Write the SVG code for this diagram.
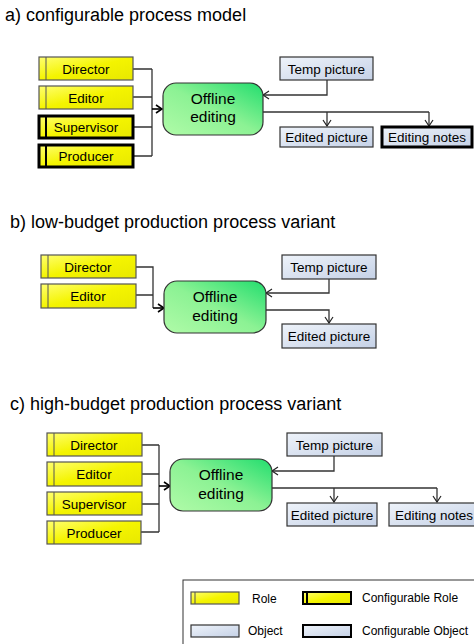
<svg xmlns="http://www.w3.org/2000/svg" width="474" height="644" viewBox="0 0 474 644">
<defs>
<linearGradient id="gRole" x1="0" y1="0" x2="1" y2="1">
<stop offset="0" stop-color="#ffff70"/>
<stop offset="0.5" stop-color="#f4f400"/>
<stop offset="1" stop-color="#e8e800"/>
</linearGradient>
<linearGradient id="gObj" x1="0" y1="0" x2="1" y2="1">
<stop offset="0" stop-color="#eef3fa"/>
<stop offset="1" stop-color="#c5d1e6"/>
</linearGradient>
<linearGradient id="gFn" x1="0" y1="1" x2="1" y2="0">
<stop offset="0" stop-color="#b0fba8"/>
<stop offset="0.5" stop-color="#8cf294"/>
<stop offset="1" stop-color="#22dd6e"/>
</linearGradient>
<marker id="arr" markerUnits="userSpaceOnUse" markerWidth="10" markerHeight="10" viewBox="0 0 10 10" refX="9" refY="5" orient="auto">
<path d="M3,1 L9,5 L3,9" fill="none" stroke="#222" stroke-width="1.2"/>
</marker>
<marker id="arrB" markerUnits="userSpaceOnUse" markerWidth="10" markerHeight="10" viewBox="0 0 10 10" refX="9" refY="5" orient="auto">
<path d="M3,1 L9,5 L3,9" fill="none" stroke="#000" stroke-width="1.6"/>
</marker>
</defs>
<style>
text{font-family:"Liberation Sans",Arial,sans-serif;fill:#000}
.title{font-size:18px}
.lbl{font-size:13.5px;text-anchor:middle}
.fn{font-size:15.5px;text-anchor:middle}
.leg{font-size:12px}
.role{fill:url(#gRole);stroke:#555;stroke-width:1.2}
.crole{fill:url(#gRole);stroke:#000;stroke-width:3}
.bar{fill:none;stroke:#555;stroke-width:1}
.cbar{fill:none;stroke:#000;stroke-width:2}
.obj{fill:url(#gObj);stroke:#333;stroke-width:1.2}
.cobj{fill:url(#gObj);stroke:#000;stroke-width:3}
.fnbox{fill:url(#gFn);stroke:#333;stroke-width:1.2}
.ln{fill:none;stroke:#333;stroke-width:1.3}
.lnk{fill:none;stroke:#000;stroke-width:1.6}
</style>

<text class="title" x="5" y="21">a) configurable process model</text>
<text class="title" x="10" y="228">b) low-budget production process variant</text>
<text class="title" x="10" y="410">c) high-budget production process variant</text>

<g id="connectors">
<!-- a -->
<path class="ln" d="M133,69 H152 M133,97 H152 M133,127 H152 M133,156 H152 M152,69 V156"/>
<path class="lnk" d="M152,109 H162" marker-end="url(#arrB)"/>
<path class="ln" d="M327,80 V95 H263" marker-end="url(#arr)"/>
<path class="ln" d="M263,112 H429"/>
<path class="ln" d="M327,112 V126" marker-end="url(#arr)"/>
<path class="ln" d="M429,112 V126" marker-end="url(#arr)"/>
<!-- b -->
<path class="ln" d="M136,267 H153 V308 M136,295 H153"/>
<path class="lnk" d="M153,308 H164" marker-end="url(#arrB)"/>
<path class="ln" d="M329,279 V293 H266" marker-end="url(#arr)"/>
<path class="ln" d="M266,310 H329 V323" marker-end="url(#arr)"/>
<!-- c -->
<path class="ln" d="M142,445 H159 M142,474 H159 M142,504 H159 M141,532 H159 M159,445 V532"/>
<path class="lnk" d="M159,486 H170" marker-end="url(#arrB)"/>
<path class="ln" d="M334,456 V471 H272" marker-end="url(#arr)"/>
<path class="ln" d="M272,488 H437"/>
<path class="ln" d="M334,488 V502" marker-end="url(#arr)"/>
<path class="ln" d="M437,488 V502" marker-end="url(#arr)"/>
</g>

<!-- section a -->
<g id="a-director"><rect class="role" x="39" y="57" width="94" height="23"/><line class="bar" x1="46" y1="57" x2="46" y2="80"/><text class="lbl" x="86" y="73.5">Director</text></g>
<g id="a-editor"><rect class="role" x="39" y="86" width="94" height="23"/><line class="bar" x1="46" y1="86" x2="46" y2="109"/><text class="lbl" x="86" y="102.5">Editor</text></g>
<g id="a-supervisor"><rect class="crole" x="39" y="116" width="94" height="22"/><line class="cbar" x1="46" y1="116" x2="46" y2="138"/><text class="lbl" x="86" y="132">Supervisor</text></g>
<g id="a-producer"><rect class="crole" x="39" y="145" width="94" height="22"/><line class="cbar" x1="46" y1="145" x2="46" y2="167"/><text class="lbl" x="86" y="161">Producer</text></g>
<g id="a-offline"><rect class="fnbox" x="163" y="83" width="100" height="52" rx="13"/><text class="fn" x="213" y="104">Offline</text><text class="fn" x="213" y="122">editing</text></g>
<g id="a-temp"><rect class="obj" x="280" y="57" width="93" height="23"/><text class="lbl" x="326.5" y="73.5">Temp picture</text></g>
<g id="a-edited"><rect class="obj" x="280" y="127" width="93" height="20"/><text class="lbl" x="326.5" y="142">Edited picture</text></g>
<g id="a-notes"><rect class="cobj" x="382" y="127" width="90" height="20"/><text class="lbl" x="427" y="142">Editing notes</text></g>

<!-- section b -->
<g id="b-director"><rect class="role" x="41" y="255" width="95" height="23"/><line class="bar" x1="48" y1="255" x2="48" y2="278"/><text class="lbl" x="88" y="271.5">Director</text></g>
<g id="b-editor"><rect class="role" x="41" y="284" width="95" height="24"/><line class="bar" x1="48" y1="284" x2="48" y2="308"/><text class="lbl" x="88" y="300.5">Editor</text></g>
<g id="b-offline"><rect class="fnbox" x="164" y="281" width="102" height="52" rx="13"/><text class="fn" x="215" y="302">Offline</text><text class="fn" x="215" y="321">editing</text></g>
<g id="b-temp"><rect class="obj" x="282" y="255" width="94" height="24"/><text class="lbl" x="329" y="271.5">Temp picture</text></g>
<g id="b-edited"><rect class="obj" x="282" y="324" width="94" height="24"/><text class="lbl" x="329" y="340.5">Edited picture</text></g>

<!-- section c -->
<g id="c-director"><rect class="role" x="47" y="433" width="95" height="23"/><line class="bar" x1="54" y1="433" x2="54" y2="456"/><text class="lbl" x="94" y="449.5">Director</text></g>
<g id="c-editor"><rect class="role" x="47" y="462" width="95" height="24"/><line class="bar" x1="54" y1="462" x2="54" y2="486"/><text class="lbl" x="94" y="478.5">Editor</text></g>
<g id="c-supervisor"><rect class="role" x="47" y="492" width="95" height="23"/><line class="bar" x1="54" y1="492" x2="54" y2="515"/><text class="lbl" x="94" y="508.5">Supervisor</text></g>
<g id="c-producer"><rect class="role" x="47" y="521" width="94" height="23"/><line class="bar" x1="54" y1="521" x2="54" y2="544"/><text class="lbl" x="94" y="537.5">Producer</text></g>
<g id="c-offline"><rect class="fnbox" x="170" y="459" width="102" height="52" rx="13"/><text class="fn" x="221" y="480">Offline</text><text class="fn" x="221" y="499">editing</text></g>
<g id="c-temp"><rect class="obj" x="287" y="433" width="95" height="23"/><text class="lbl" x="334.5" y="449.5">Temp picture</text></g>
<g id="c-edited"><rect class="obj" x="287" y="503" width="90" height="23"/><text class="lbl" x="332" y="519.5">Edited picture</text></g>
<g id="c-notes"><rect class="obj" x="389" y="503" width="90" height="23"/><text class="lbl" x="434" y="519.5">Editing notes</text></g>

<!-- legend -->
<g id="legend">
<rect x="183" y="580" width="300" height="70" fill="#fff" stroke="#333" stroke-width="1"/>
<rect class="role" x="191" y="592" width="48" height="12"/><line class="bar" x1="195" y1="592" x2="195" y2="604"/>
<text class="leg" x="252" y="603">Role</text>
<rect fill="url(#gRole)" stroke="#000" stroke-width="2" x="303" y="592" width="48" height="12"/><line class="cbar" x1="307" y1="592" x2="307" y2="604"/>
<text class="leg" x="362" y="602">Configurable Role</text>
<rect class="obj" x="191" y="625" width="48" height="12"/>
<text class="leg" x="248" y="635">Object</text>
<rect fill="url(#gObj)" stroke="#000" stroke-width="2" x="303" y="625" width="48" height="12"/>
<text class="leg" x="362" y="635">Configurable Object</text>
</g>
</svg>
